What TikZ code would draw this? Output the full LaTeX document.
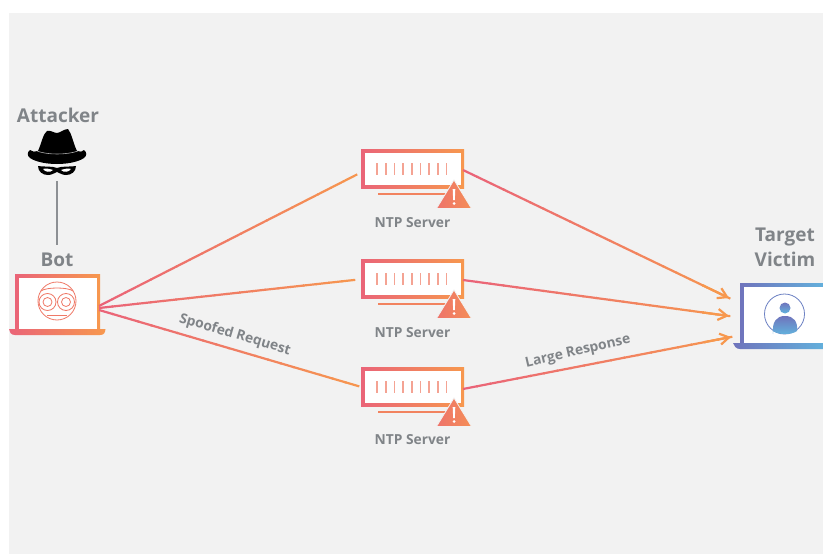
\documentclass[tikz,border=0pt]{standalone}
\usepackage{fontspec}
\setmainfont{Open Sans}
\usetikzlibrary{calc,arrows.meta}
\definecolor{panel}{HTML}{F2F2F2}
\definecolor{labelgray}{HTML}{808488}
\definecolor{linepink}{HTML}{EA6478}
\definecolor{lineorange}{HTML}{F7984E}
\definecolor{linkblue}{HTML}{6F74BC}
\definecolor{linkcyan}{HTML}{62B4DE}
\tikzset{
    caption/.style = {
        text = labelgray,
        font = \bfseries\fontsize{19}{22}\selectfont,
        inner sep = 0pt,
        },
    small caption/.style = {
        text = labelgray,
        font = \bfseries\fontsize{13.8}{16}\selectfont,
        inner sep = 0pt,
        },
    warm frame/.style = {
        shade,
        shading angle = 70,
        left color = linepink,
        right color = lineorange,
        minimum width = 103pt,
        minimum height = 39pt,
        inner sep = 0pt,
        },
    screen/.style = {
        fill = white,
        inner sep = 0pt,
        },
    tick/.style = {
        line width = 1.7pt,
        color = linepink!55!lineorange!70!white,
        },
    face/.style = {
        draw = linepink!60!lineorange,
        line width = .8pt,
        },
    tip/.style = {
        lineorange,
        line width = 2.2pt,
        -{Straight Barb[length=9pt,width=11pt,line width=2.2pt]},
        },
}
% line whose colour runs from pink to orange
\newcommand{\warmline}[2]{
    \foreach \i [evaluate=\i as \p using 100-5*\i, evaluate=\i as \q using (\i+1.1)/20] in {0,...,19}
        \draw[linepink!\p!lineorange, line width=2.2pt] ($(#1)!\i/20!(#2)$) -- ($(#1)!\q!(#2)$);
}
\begin{document}
\begin{tikzpicture}[x=1pt,y=-1pt]
    \useasboundingbox (0,0) rectangle (823,554);
    \fill[panel] (9,13) rectangle (823,554);

    % attacker
    \node [caption] (attacker) at (58,115) {Attacker};
    \fill (38,151) .. controls (42,142) and (43,134) .. (47,131) .. controls (51,130) and (54,133) .. (57,133)
        .. controls (60,133) and (64,129) .. (68,129) .. controls (72,134) and (73,143) .. (77,151)
        .. controls (80,152) and (83,152) .. (84,150) .. controls (87,152) and (87,156) .. (84,158)
        .. controls (72,166) and (42,166) .. (30,158) .. controls (27,156) and (27,152) .. (30,150)
        .. controls (32,152) and (35,152) .. (38,151) -- cycle;
    \draw[gray!70, line width=.6pt] (37,151) .. controls (47,155) and (67,155) .. (78,151);
    \fill (38,166) .. controls (46,167) and (52,166) .. (57,168) .. controls (62,166) and (68,167) .. (76,166)
        .. controls (76,172) and (71,175) .. (66,175) .. controls (62,175) and (60,173) .. (57,172)
        .. controls (54,173) and (52,175) .. (48,175) .. controls (43,175) and (38,172) .. (38,166) -- cycle;
    \fill[white] (43,169) .. controls (46,168) and (50,169) .. (53,170) .. controls (50,173) and (45,172) .. (43,169) -- cycle;
    \fill[white] (71,169) .. controls (68,168) and (64,169) .. (61,170) .. controls (64,173) and (69,172) .. (71,169) -- cycle;
    \coordinate (attackerfoot) at (56.5,181);

    % bot
    \node [caption] (botlabel) at (57,260) {Bot};
    \coordinate (bottop) at (56.5,245);
    \draw[labelgray!90, line width=2pt] (attackerfoot) -- (bottop);
    \node [warm frame, minimum width=85pt, minimum height=57pt] (bot) at (57.5,303) {};
    \node [screen, minimum width=78pt, minimum height=51pt] (botscreen) at (57.5,303.5) {};
    \shade[left color=linepink, right color=lineorange] (9,329) -- (105.5,329) .. controls (105,333) and (104,335) .. (100,335) -- (15,335) .. controls (11,335) and (9,332) .. (9,329) -- cycle;
    \node [face, circle, minimum size=38pt, inner sep=0pt] (botface) at (57,301) {};
    \draw[face] (41,291) .. controls (46,287) and (68,287) .. (73,291);
    \node [face, circle, minimum size=17pt, inner sep=0pt] (eyeleft) at (47.5,302) {};
    \node [face, circle, minimum size=9pt, inner sep=0pt] at (eyeleft) {};
    \node [face, circle, minimum size=17pt, inner sep=0pt] (eyeright) at (66,302) {};
    \node [face, circle, minimum size=9pt, inner sep=0pt] at (eyeright) {};
    \draw[face] (47,315) -- (67,315);

    % servers
    \foreach \name/\y/\ytext in {ntpa/150/222.5, ntpb/260/332.5, ntpc/368/439.5}{
        \node [warm frame] (\name) at (412.5,\y+19) {};
        \node [screen, minimum width=96pt, minimum height=32pt] at (\name) {};
        \foreach \k in {0,...,8}
            \draw[tick] (377+8.7*\k,\y+13) -- (377+8.7*\k,\y+25);
        \draw[linepink!40!lineorange, line width=2.6pt] (378,\y+44) -- (447,\y+44);
        \shade[left color=linepink!70!lineorange, right color=lineorange!80!linepink, draw=panel, line width=.8pt]
            (454,\y+30) -- (471.5,\y+58.5) -- (436.5,\y+58.5) -- cycle;
        \fill[white] (452.7,\y+39) -- (455.3,\y+39) -- (454.8,\y+50) -- (453.2,\y+50) -- cycle;
        \fill[white] (454,\y+53.5) circle (1.5);
        \node [small caption] (\name label) at (412.5,\ytext) {NTP Server};
    }

    % target
    \node [caption] (targetlabel) at (785,237) {Target};
    \node [caption] (victimlabel) at (785,259) {Victim};
    \shade[left color=linkblue, right color=linkcyan] (740,283) rectangle (830,344);
    \fill[white] (744,287) rectangle (830,343);
    \shade[left color=linkblue, right color=linkcyan] (733,343) -- (830,343) -- (830,349) -- (740,349) .. controls (736,349) and (734,346) .. (733,343) -- cycle;
    \node [circle, draw=linkblue!80!linkcyan, line width=.8pt, minimum size=40pt, inner sep=0pt] (victimicon) at (784.5,314) {};
    \shade[top color=linkblue, bottom color=linkcyan] (785,308) circle (5.5);
    \shade[top color=linkblue, bottom color=linkcyan] (773,334) .. controls (772,322) and (776,316) .. (785,316)
        .. controls (794,316) and (798,322) .. (797,331) .. controls (792,335) and (778,335) .. (773,331) -- cycle;

    % connector ends
    \coordinate (botouta) at (99,306);
    \coordinate (botoutb) at (99,308);
    \coordinate (botoutc) at (99,310);
    \coordinate (ntpina) at (356,175);
    \coordinate (ntpinb) at (354,280);
    \coordinate (ntpinc) at (358,386);
    \coordinate (ntpouta) at (463,170);
    \coordinate (ntpoutb) at (463,280);
    \coordinate (ntpoutc) at (463,389);
    \coordinate (targetina) at (729,298);
    \coordinate (targetinb) at (729,316);
    \coordinate (targetinc) at (731,337);

    % request lines
    \warmline{botouta}{ntpina}
    \warmline{botoutb}{ntpinb}
    \warmline{botoutc}{ntpinc}

    % response lines
    \warmline{ntpouta}{targetina}
    \warmline{ntpoutb}{targetinb}
    \warmline{ntpoutc}{targetinc}
    \draw[tip] ($(ntpouta)!.9!(targetina)$) -- (targetina);
    \draw[tip] ($(ntpoutb)!.9!(targetinb)$) -- (targetinb);
    \draw[tip] ($(ntpoutc)!.9!(targetinc)$) -- (targetinc);

    \node [small caption, rotate=-16.5] (spoofed) at (235,335) {Spoofed Request};
    \node [small caption, rotate=13] (large) at (578,352) {Large Response};
\end{tikzpicture}
\end{document}
